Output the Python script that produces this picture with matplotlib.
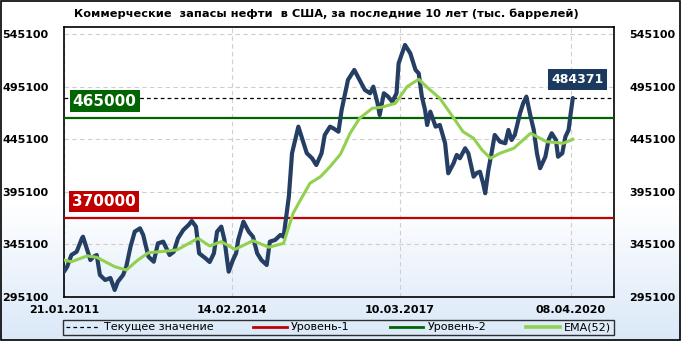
import numpy as np
import matplotlib
matplotlib.use("Agg")
import matplotlib.pyplot as plt
from matplotlib.lines import Line2D

# ---- data (week index since 21.01.2011, value in thousand barrels) ----
stock_weeks = [0, 3, 7, 12, 17, 18, 22, 25, 28, 31, 34, 39, 44, 48, 51, 56, 59, 63, 67, 72,
               75, 80, 85, 89, 94, 100, 104, 108, 113, 118, 121, 125, 128, 134, 138, 142, 145,
               149, 152, 156, 160, 163, 165, 170, 175, 179, 183, 187, 192, 195, 200, 205, 208,
               213, 216, 219, 222, 225, 230, 235, 239, 244, 247, 252, 255, 260, 263, 269, 275,
               280, 285, 290, 293, 297, 299, 303, 307, 311, 315, 317, 323, 328, 333, 336, 339,
               342, 344, 347, 352, 356, 361, 364, 369, 372, 375, 380, 383, 388, 391, 394, 397,
               399, 402, 405, 408, 413, 418, 421, 424, 427, 432, 435, 438, 442, 445, 448, 451,
               456, 459, 462, 466, 468, 472, 475, 478, 480, 482]
stock_values = [319000, 323800, 334900, 338000, 350800, 352300, 339700, 330100, 333300, 334900,
                315900, 311100, 313000, 301600, 309500, 315900, 323800, 342800, 357100, 360300,
                354000, 333300, 328500, 346000, 347600, 334900, 338000, 350800, 358700, 363500,
                367300, 361900, 336500, 331800, 328200, 336500, 357100, 361900, 349200, 319000,
                330100, 336500, 349200, 366600, 357100, 352300, 336500, 330100, 325400, 347600,
                349200, 354000, 352300, 390500, 431800, 444400, 457100, 447600, 431800, 427000,
                420600, 431800, 449200, 457100, 455600, 452300, 473000, 501600, 511100, 501600,
                492100, 488900, 495200, 479400, 468200, 488900, 485700, 480900, 488900, 517500,
                534900, 527000, 511100, 507900, 485700, 473000, 458700, 471400, 457100, 458700,
                441300, 412700, 422200, 430200, 427000, 436500, 431800, 409500, 413000, 414200,
                403200, 393700, 415900, 431800, 449200, 442800, 441300, 454000, 444400, 449200,
                469900, 479400, 485700, 466600, 454000, 431800, 417500, 428500, 444400, 450800,
                444400, 428500, 431800, 447600, 454000, 469900, 484371]

ema_weeks = [0, 7, 22, 31, 48, 59, 70, 80, 91, 107, 127, 138, 149, 162, 179, 194, 208, 217,
             224, 233, 243, 252, 262, 271, 280, 292, 301, 314, 325, 336, 345, 356, 366, 378,
             388, 396, 404, 413, 426, 442, 457, 473, 482]
ema_values = [330100, 328500, 334000, 332700, 323800, 320600, 330100, 337100, 338000, 339700,
              350800, 343500, 347600, 340300, 348500, 342300, 346000, 374600, 387300, 403200,
              409500, 419000, 431100, 450800, 465100, 474600, 475600, 479400, 495200, 502200,
              493700, 484100, 469900, 452300, 446000, 434900, 427000, 431800, 436500, 450800,
              442800, 441300, 445100]

current_value = 484371
level1 = 370000
level2 = 465000

x_tick_pos = [0, 159, 318, 480]
x_tick_labels = ["21.01.2011", "14.02.2014", "10.03.2017", "08.04.2020"]
y_ticks = [295100, 345100, 395100, 445100, 495100, 545100]

title = "Коммерческие  запасы нефти  в США, за последние 10 лет (тыс. баррелей)"
legend_labels = ["Текущее значение", "Уровень-1", "Уровень-2", "EMA(52)"]

# ---- colours ----
c_line = "#243f63"
c_ema = "#92d050"
c_red = "#c00000"
c_green = "#006400"
c_box = "#1c3a5e"

W, H = 681, 341
fig = plt.figure(figsize=(W / 100, H / 100), dpi=100)

# background gradient (white -> light blue towards bottom)
bg = fig.add_axes([0, 0, 1, 1], zorder=-10)
grad = np.linspace(0, 1, 256)
grad = np.clip((grad - 0.6) / 0.4, 0, 1)[:, None]
top = np.array([1.0, 1.0, 1.0])
bot = np.array([0xda, 0xe8, 0xf8]) / 255
img = top[None, None, :] * (1 - grad[:, :, None]) + bot[None, None, :] * grad[:, :, None]
bg.imshow(img, aspect="auto", extent=[0, 1, 0, 1], origin="upper")
bg.set_xlim(0, 1)
bg.set_ylim(0, 1)
bg.axis("off")
bg.add_patch(plt.Rectangle((0.0008, 0.0015), 0.998, 0.997, fill=False, ec="black", lw=1.2,
                           transform=bg.transAxes))

ax = fig.add_axes([64 / W, 1 - 297 / H, 550 / W, 270 / H])
ax.set_facecolor("none")
ax.set_xlim(0, 521)
ax.set_ylim(294900, 552000)

ax.set_yticks(y_ticks)
ax.set_yticklabels([str(v) for v in y_ticks])
ax.set_xticks(x_tick_pos)
ax.set_xticklabels(x_tick_labels)
ax.tick_params(axis="y", length=0, pad=11, labelsize=8, left=True, right=True,
               labelleft=True, labelright=True)
ax.tick_params(axis="x", length=0, pad=6, labelsize=8)
for lab in ax.get_xticklabels() + ax.get_yticklabels():
    lab.set_fontweight("bold")
for t in ax.yaxis.get_major_ticks():
    t.label2.set_fontweight("bold")
ax.grid(True, color="#cfcfcf", ls=(0, (4, 3)), lw=0.8)
for s in ax.spines.values():
    s.set_color("black")
    s.set_linewidth(1.2)

ax.axhline(level1, color=c_red, lw=1.6, zorder=3)
ax.axhline(level2, color=c_green, lw=1.6, zorder=3)
ax.axhline(current_value, color="black", lw=0.9, ls=(0, (3, 2.5)), zorder=3)

ax.plot(stock_weeks, stock_values, color=c_line, lw=3.0, solid_joinstyle="round",
        solid_capstyle="round", zorder=4)
ax.plot(ema_weeks, ema_values, color=c_ema, lw=2.2, solid_joinstyle="round", zorder=5)

ax.text(8.3, 481500, f"{level2}", color="white", fontsize=11, fontweight="bold",
        ha="left", va="center", zorder=6,
        bbox=dict(boxstyle="square,pad=0.2", fc=c_green, ec="none"))
ax.text(7.6, 385600, f"{level1}", color="white", fontsize=11, fontweight="bold",
        ha="left", va="center", zorder=6,
        bbox=dict(boxstyle="square,pad=0.2", fc=c_red, ec="none"))
ax.text(stock_weeks[-1] + 4.5, 502000, f"{current_value}", color="white", fontsize=9,
        fontweight="bold", ha="center", va="center", zorder=6,
        bbox=dict(boxstyle="square,pad=0.3", fc=c_box, ec="none"))

fig.text(326 / W, 1 - 14 / H, title, ha="center", va="center", fontsize=8.2,
         fontweight="bold")

handles = [Line2D([], [], color="black", lw=0.9, ls=(0, (3, 2.5))),
           Line2D([], [], color=c_red, lw=2.0),
           Line2D([], [], color=c_green, lw=2.0),
           Line2D([], [], color=c_ema, lw=2.6)]
leg = fig.legend(handles, legend_labels, ncol=4, loc="center",
                 bbox_to_anchor=(63 / W, 1 - 336 / H, 551 / W, 17 / H), mode="expand",
                 fontsize=8, frameon=True, fancybox=False, borderpad=0.25,
                 handlelength=3.0, handletextpad=0.4, borderaxespad=0)
leg.get_frame().set_edgecolor("black")
leg.get_frame().set_facecolor("none")
leg.get_frame().set_linewidth(1.0)

fig.savefig("out.png", dpi=100)
